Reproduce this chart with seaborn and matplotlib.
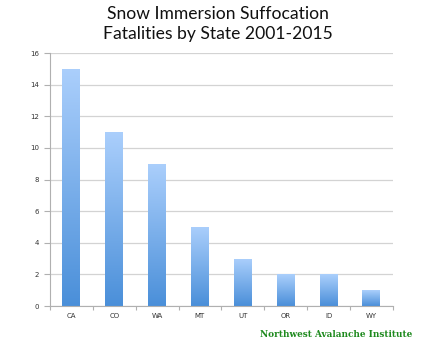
import numpy as np
import pandas as pd
import matplotlib
matplotlib.use("Agg")
import matplotlib.pyplot as plt
import seaborn as sns
from matplotlib.colors import LinearSegmentedColormap

states = ["CA", "CO", "WA", "MT", "UT", "OR", "ID", "WY"]
fatalities = [15, 11, 9, 5, 3, 2, 2, 1]
y_ticks = [0, 2, 4, 6, 8, 10, 12, 14, 16]
title = "Snow Immersion Suffocation\nFatalities by State 2001-2015"
credit = "Northwest Avalanche Institute"

df = pd.DataFrame({"state": states, "fatalities": fatalities})

sns.set_style("white")
fig = plt.figure(figsize=(4.35, 3.45), dpi=100)
ax = fig.add_axes([0.115, 0.113, 0.788, 0.733])

sns.barplot(data=df, x="state", y="fatalities", ax=ax, color="#7FB0EA",
            width=0.42, edgecolor="none", saturation=1)

cmap = LinearSegmentedColormap.from_list("g", ["#4A8FD9", "#ABCFFC"])
grad = np.linspace(0, 1, 256).reshape(-1, 1)
for p in ax.patches:
    x0, y0 = p.get_x(), p.get_y()
    w, h = p.get_width(), p.get_height()
    im = ax.imshow(grad, cmap=cmap, aspect="auto", origin="lower",
                   extent=[x0, x0 + w, y0, y0 + h], zorder=p.get_zorder() + 0.1)
    im.set_clip_path(p)

ax.set_xlim(-0.5, 7.5)
ax.set_ylim(0, 16)
ax.set_yticks(y_ticks)
ax.set_yticklabels([str(t) for t in y_ticks])
ax.yaxis.grid(True, color="#D3D3D3", linewidth=0.9)
ax.set_axisbelow(True)
ax.set_xlabel("")
ax.set_ylabel("")
for s in ["top", "right"]:
    ax.spines[s].set_visible(False)
for s in ["left", "bottom"]:
    ax.spines[s].set_color("#B0B0B0")
    ax.spines[s].set_linewidth(0.8)

ax.tick_params(axis="y", which="major", length=4, width=0.8, color="#B0B0B0",
               labelsize=5, labelcolor="#333333", pad=4, left=True)
ax.set_xticks(range(len(states)))
ax.set_xticklabels(states)
ax.tick_params(axis="x", which="major", length=0, labelsize=5,
               labelcolor="#333333", pad=5)
ax.set_xticks(np.arange(-0.5, 8.0, 1.0), minor=True)
ax.tick_params(axis="x", which="minor", length=3, width=0.8, color="#B0B0B0",
               bottom=True)

fig.text(0.5, 0.982, title, ha="center", va="top", fontsize=12.6,
         family="Lato", color="#111111", linespacing=1.3)
fig.text(0.947, 0.022, credit, ha="right", va="baseline", fontsize=6.4,
         family="DejaVu Serif", fontweight="bold", color="#1E8A1E")

fig.savefig("out.png", dpi=100)
